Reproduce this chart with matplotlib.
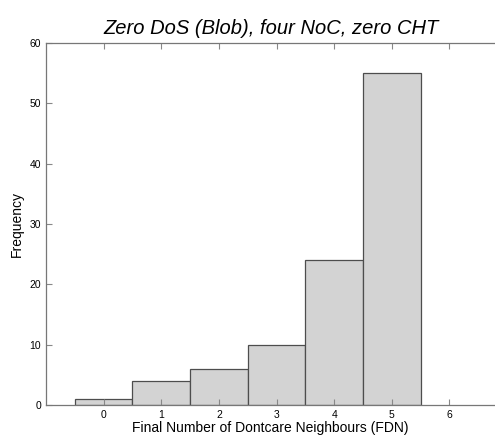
import matplotlib
matplotlib.use("Agg")
import matplotlib.pyplot as plt

matplotlib.rcParams['font.family'] = 'Liberation Sans'

fdn = [0, 1, 2, 3, 4, 5]
freq = [1, 4, 6, 10, 24, 55]
xticks = [0, 1, 2, 3, 4, 5, 6]
yticks = [0, 10, 20, 30, 40, 50, 60]

fig = plt.figure(figsize=(4.95, 4.37), dpi=100)
ax = fig.add_axes([0.093, 0.073, 0.907, 0.829])

ax.bar(fdn, freq, width=1.0, color='#d3d3d3', edgecolor='#4d4d4d', linewidth=0.9)

ax.set_xlim(-1, 6.79)
ax.set_ylim(0, 60)
ax.set_xticks(xticks)
ax.set_yticks(yticks)
ax.tick_params(direction='in', length=4, width=0.8, color='#888888',
               labelsize=7.5, top=True, right=False)

for side in ['left', 'bottom', 'top']:
    ax.spines[side].set_color('#777777')
    ax.spines[side].set_linewidth(0.9)
ax.spines['right'].set_visible(False)

ax.set_title('Zero DoS (Blob), four NoC, zero CHT', fontsize=14.5, style='italic', pad=6)
ax.set_xlabel('Final Number of Dontcare Neighbours (FDN)', fontsize=10, labelpad=1)
ax.set_ylabel('Frequency', fontsize=10, labelpad=4)

fig.savefig('out.png', dpi=100)
